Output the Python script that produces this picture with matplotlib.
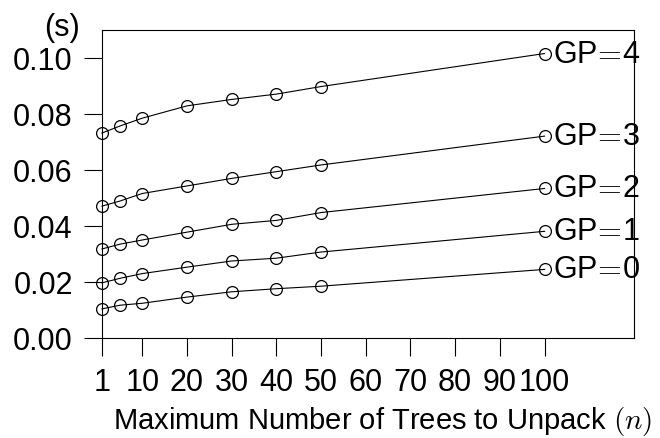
import matplotlib
matplotlib.use('Agg')
from matplotlib import pyplot as plt

# data
trees = [1, 5, 10, 20, 30, 40, 50, 100]
gp0 = [0.0104, 0.0117, 0.0124, 0.0146, 0.0165, 0.0176, 0.0185, 0.0245]
gp1 = [0.0197, 0.0213, 0.0230, 0.0253, 0.0275, 0.0285, 0.0307, 0.0381]
gp2 = [0.0318, 0.0335, 0.0350, 0.0378, 0.0406, 0.0420, 0.0448, 0.0534]
gp3 = [0.0471, 0.0489, 0.0516, 0.0543, 0.0570, 0.0594, 0.0618, 0.0721]
gp4 = [0.0732, 0.0757, 0.0785, 0.0829, 0.0852, 0.0871, 0.0898, 0.1016]
series = [gp0, gp1, gp2, gp3, gp4]
series_labels = [r"GP$\!=\!$" + str(g) for g in range(5)]
xticks = [1, 10, 20, 30, 40, 50, 60, 70, 80, 90, 100]
yticks = [0.00, 0.02, 0.04, 0.06, 0.08, 0.10]

plt.rcParams['font.family'] = ['Liberation Sans', 'DejaVu Sans']
plt.rcParams['mathtext.fontset'] = 'cm'
fs = 22

fig = plt.figure(figsize=(6.6, 4.39), dpi=100)
ax = fig.add_axes([0.1545, 0.2278, 0.8061, 0.7016])

for ys, lab in zip(series, series_labels):
    ax.plot(trees, ys, color='black', lw=0.8, marker='o', ms=8.5,
            mfc='none', mec='black', mew=0.9, clip_on=False)
    ax.text(trees[-1] + 1.8, ys[-1], lab, fontsize=fs, va='center', ha='left')

ax.set_xlim(1, 120)
ax.set_ylim(0, 0.11)
ax.set_xticks(xticks)
ax.set_xticklabels([str(t) for t in xticks])
ax.set_yticks(yticks)
ax.set_yticklabels([f"{t:.2f}" for t in yticks])
ax.tick_params(direction='out', length=13, width=0.8, labelsize=fs, pad=8)
for sp in ax.spines.values():
    sp.set_linewidth(0.8)

fig.text(0.094, 0.936, "(s)", fontsize=fs, ha='center', va='center')
fig.text(0.58, 0.04, "Maximum Number of Trees to Unpack $(n)$", fontsize=21,
         ha='center', va='center')

fig.savefig("out.png", dpi=100)
